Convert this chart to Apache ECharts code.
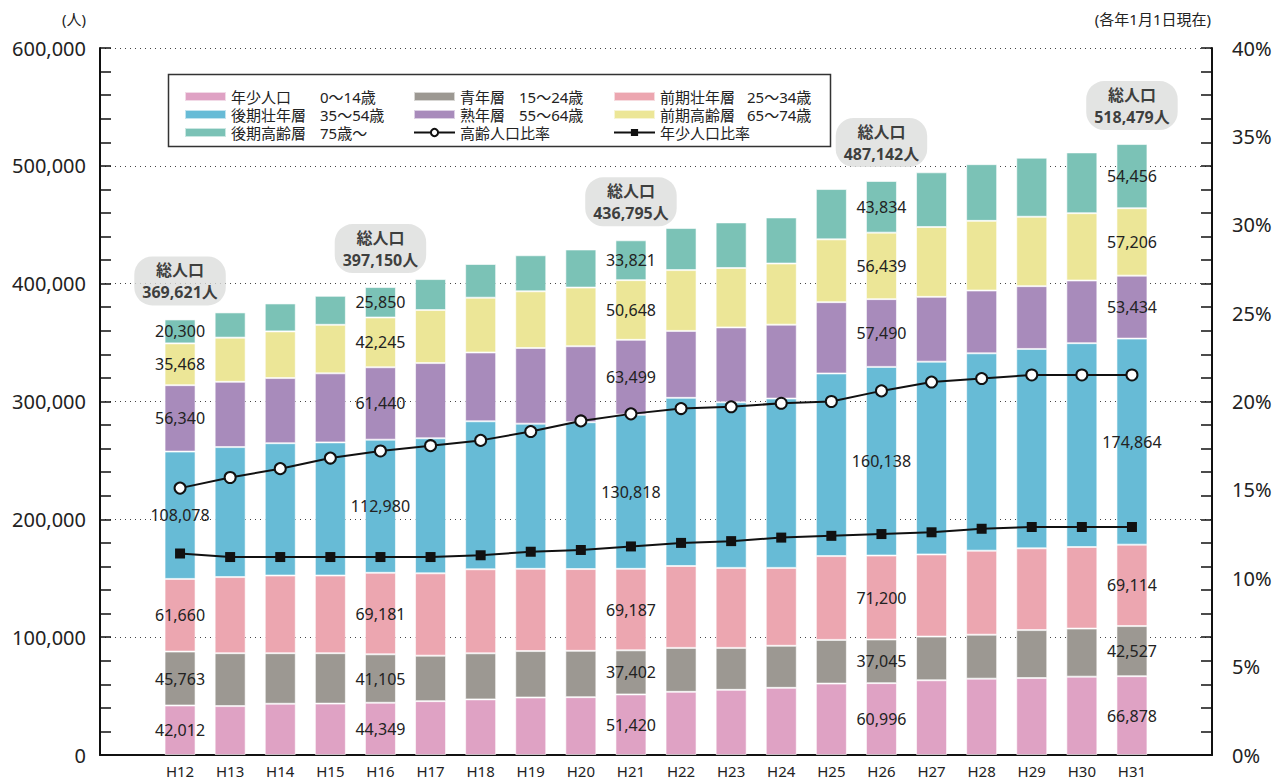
<!DOCTYPE html>
<html>
<head>
<meta charset="utf-8">
<title>年齢層別人口の推移</title>
<script src="https://cdn.jsdelivr.net/npm/echarts@6/dist/echarts.min.js"></script>
<style>
html, body { margin: 0; padding: 0; background: #fff; }
#chart { width: 1283px; height: 781px; }
</style>
</head>
<body>
<div id="chart"></div>
<script>
// 各年1月1日現在
const years = ['H12', 'H13', 'H14', 'H15', 'H16', 'H17', 'H18', 'H19', 'H20', 'H21',
  'H22', 'H23', 'H24', 'H25', 'H26', 'H27', 'H28', 'H29', 'H30', 'H31']

// 年齢層別人口（人）
const youth = [42012, 41500, 43500, 43600, 44349, 45700, 47200, 48800, 49100, 51420,
  53600, 55300, 57000, 60600, 60996, 63400, 64800, 65300, 66500, 66878]
const young = [45763, 44900, 42900, 42800, 41105, 38600, 39100, 39400, 39300, 37402,
  37300, 35600, 35700, 37100, 37045, 37100, 37300, 40700, 40800, 42527]
const earlyPrime = [61660, 64600, 65900, 65900, 69181, 69900, 71300, 69800, 69400, 69187,
  69500, 67900, 66100, 71100, 71200, 69700, 71300, 69400, 69200, 69114]
const latePrime = [108078, 110300, 112300, 113000, 112980, 114600, 125600, 123200, 124600, 130818,
  142700, 140500, 143700, 155000, 160138, 163600, 167500, 169200, 173000, 174864]
const mature = [56340, 55400, 55300, 58600, 61440, 63800, 58400, 64200, 64500, 63499,
  56800, 63600, 62700, 60500, 57490, 55000, 53300, 53300, 53200, 53434]
const earlyElderly = [35468, 37500, 39600, 41200, 42245, 45000, 46500, 48100, 49800, 50648,
  51600, 50400, 51900, 53300, 56439, 59300, 59100, 58900, 57100, 57206]
const lateElderly = [20300, 21400, 23700, 24600, 25850, 26300, 28600, 30600, 32300, 33821,
  35700, 38700, 39100, 42700, 43834, 46400, 48100, 50100, 51600, 54456]

// 比率（%）
const elderlyRate = [15.1, 15.7, 16.2, 16.8, 17.2, 17.5, 17.8, 18.3, 18.9, 19.3,
  19.6, 19.7, 19.9, 20.0, 20.6, 21.1, 21.3, 21.5, 21.5, 21.5]
const youthRate = [11.4, 11.2, 11.2, 11.2, 11.2, 11.2, 11.3, 11.5, 11.6, 11.8,
  12.0, 12.1, 12.3, 12.4, 12.5, 12.6, 12.8, 12.9, 12.9, 12.9]

// 数値と総人口を書き込む年
const labelYears = ['H12', 'H16', 'H21', 'H26', 'H31']

const FONT = '"Noto Sans", "Noto Sans CJK JP", sans-serif'
const INK = '#222'
const fmt = v => Number(v).toLocaleString('en-US')

const layers = [
  { name: '年少人口', age: '0～14歳', data: youth, color: '#dfa2c4' },
  { name: '青年層', age: '15～24歳', data: young, color: '#9c9892' },
  { name: '前期壮年層', age: '25～34歳', data: earlyPrime, color: '#eca6b0' },
  { name: '後期壮年層', age: '35～54歳', data: latePrime, color: '#67bbd6' },
  { name: '熟年層', age: '55～64歳', data: mature, color: '#a88bbb' },
  { name: '前期高齢層', age: '65～74歳', data: earlyElderly, color: '#ece697' },
  { name: '後期高齢層', age: '75歳～', data: lateElderly, color: '#7bc2b6' },
]
const ages = {}
layers.forEach(l => { ages[l.name] = l.age })

const barSeries = layers.map(l => ({
  name: l.name,
  type: 'bar',
  stack: 'pop',
  xAxisIndex: 1,
  yAxisIndex: 3,
  barWidth: 31,
  itemStyle: { color: l.color, borderColor: 'rgba(255,255,255,0.6)', borderWidth: 1 },
  label: {
    show: false,
    position: 'inside',
    color: INK,
    fontFamily: FONT,
    fontSize: 16,
    formatter: p => fmt(p.value),
  },
  data: l.data.map((v, i) => labelYears.includes(years[i]) ? { value: v, label: { show: true } } : v),
}))

const totals = labelYears.map(y => {
  const i = years.indexOf(y)
  return [y, layers.reduce((s, l) => s + l.data[i], 0)]
})

function legendBlock(left, names, nameWidth) {
  return {
    orient: 'vertical',
    left: left,
    top: 84,
    itemWidth: 41,
    itemHeight: 9,
    itemGap: 3,
    selectedMode: false,
    data: names.map(n => ages[n] ? { name: n, icon: 'rect' } : { name: n }),
    formatter: n => ages[n] ? `{n|${n}}{a|${ages[n]}}` : `{n|${n}}`,
    textStyle: {
      fontFamily: FONT,
      fontSize: 15,
      lineHeight: 15,
      color: INK,
      rich: {
        n: { width: nameWidth, fontSize: 15, lineHeight: 15, fontFamily: FONT, color: INK },
        a: { fontSize: 15, lineHeight: 15, fontFamily: FONT, color: INK },
      },
    },
  }
}

const chart = echarts.init(document.getElementById('chart'), null, { renderer: 'svg' })

chart.setOption({
  animation: false,
  backgroundColor: '#fff',
  textStyle: { fontFamily: FONT },
  grid: [
    { left: 100, right: 71, top: 48, bottom: 26 },
    { left: 155, right: 126, top: 48, bottom: 26 },
  ],
  legend: [
    legendBlock(179, ['年少人口', '後期壮年層', '後期高齢層'], 89),
    legendBlock(408, ['青年層', '熟年層', '高齢人口比率'], 59),
    legendBlock(608, ['前期壮年層', '前期高齢層', '年少人口比率'], 87),
  ],
  graphic: [
    {
      type: 'rect',
      left: 166, top: 72, z: 0,
      shape: { width: 662, height: 72 },
      style: { fill: 'none', stroke: '#333', lineWidth: 1.5 },
    },
    {
      type: 'text', left: 62, top: 11,
      style: { text: '(人)', fontSize: 15, fontFamily: FONT, fill: INK },
    },
    {
      type: 'text', right: 72, top: 11,
      style: { text: '(各年1月1日現在)', fontSize: 15, fontFamily: FONT, fill: INK },
    },
  ],
  xAxis: [
    {
      type: 'value', gridIndex: 0, min: 0, max: 1,
      axisLine: { show: true, lineStyle: { color: '#111', width: 2 } },
      axisTick: { show: false }, axisLabel: { show: false }, splitLine: { show: false },
    },
    {
      type: 'category', gridIndex: 1, data: years,
      axisLine: { show: false }, axisTick: { show: false },
      axisLabel: { color: INK, fontSize: 15, lineHeight: 15, fontFamily: FONT, margin: 8 },
    },
  ],
  yAxis: [
    {
      type: 'value', gridIndex: 0, position: 'left', min: 0, max: 600000, interval: 100000,
      axisLine: { show: true, lineStyle: { color: '#111', width: 2 } },
      axisTick: { show: true, inside: true, length: 11, lineStyle: { color: '#111', width: 1.5 } },
      minorTick: { show: true, splitNumber: 5, length: 11, lineStyle: { color: '#111', width: 1.5 } },
      splitLine: { show: true, lineStyle: { color: '#444', width: 1, type: [1, 4] } },
      axisLabel: { color: INK, fontSize: 20, fontFamily: FONT, margin: 14, formatter: fmt },
    },
    {
      type: 'value', gridIndex: 0, position: 'right', min: 0, max: 600000, interval: 100000,
      axisLine: { show: true, lineStyle: { color: '#111', width: 2 } },
      axisTick: { show: true, inside: true, length: 11, lineStyle: { color: '#111', width: 1.5 } },
      minorTick: { show: true, splitNumber: 5, length: 11, lineStyle: { color: '#111', width: 1.5 } },
      splitLine: { show: false },
      axisLabel: { show: false },
    },
    {
      type: 'value', gridIndex: 0, position: 'right', min: 0, max: 40, interval: 5,
      axisLine: { show: false }, axisTick: { show: false }, splitLine: { show: false },
      axisLabel: { color: INK, fontSize: 20, fontFamily: FONT, margin: 20, formatter: '{value}%' },
    },
    { type: 'value', gridIndex: 1, min: 0, max: 600000, show: false },
    { type: 'value', gridIndex: 1, min: 0, max: 40, show: false },
  ],
  series: [
    ...barSeries,
    {
      name: '総人口',
      type: 'scatter',
      xAxisIndex: 1,
      yAxisIndex: 3,
      symbolSize: 0,
      silent: true,
      z: 5,
      label: {
        show: true,
        position: 'top',
        distance: 14,
        backgroundColor: '#dcdddc',
        borderRadius: 18,
        padding: [3, 8, 2, 8],
        align: 'center',
        formatter: p => `{t|総人口}\n{t|${fmt(p.value[1])}人}`,
        rich: {
          t: { fontFamily: FONT, fontSize: 16, fontWeight: 'bold', lineHeight: 22, color: '#111', align: 'center' },
        },
      },
      data: totals,
    },
    {
      name: '高齢人口比率',
      type: 'line',
      xAxisIndex: 1,
      yAxisIndex: 4,
      z: 6,
      symbol: 'circle',
      symbolSize: 11,
      lineStyle: { color: '#111', width: 2 },
      itemStyle: { color: '#fff', borderColor: '#111', borderWidth: 2 },
      data: elderlyRate,
    },
    {
      name: '年少人口比率',
      type: 'line',
      xAxisIndex: 1,
      yAxisIndex: 4,
      z: 6,
      symbol: 'rect',
      symbolSize: 10,
      lineStyle: { color: '#111', width: 2 },
      itemStyle: { color: '#111' },
      data: youthRate,
    },
  ],
})
</script>
</body>
</html>
